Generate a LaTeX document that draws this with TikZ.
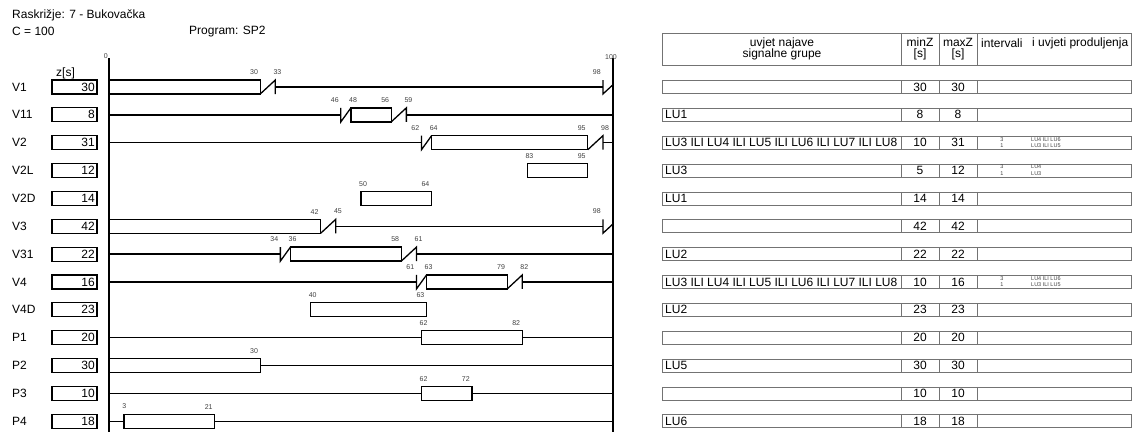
\documentclass[tikz,border=0pt]{standalone}
\usepackage{fontspec}
\setmainfont{Liberation Sans}

% time [s] -> x, row -> y (1 px = 1 pt)
\newcommand\tx[1]{109+5.04*#1}
\newcommand\ry[1]{59.15+27.85*#1}

\begin{document}
\begin{tikzpicture}[
  x=1pt, y=-1pt,
  every node/.style={inner sep=0pt, font=\fontsize{12}{11.7}\selectfont},
  ticklab/.style={font=\fontsize{7}{8}\selectfont, text=black!75},
  small/.style={font=\fontsize{5.5}{6}\selectfont, text=black!75},
  sgbar/.style={line width=1.3pt},
  axis/.style={line width=1.3pt},
  zbox/.style={draw, line width=1.1pt},
  cell/.style={draw=black!55, line width=0.7pt}
]
\useasboundingbox (0,0) rectangle (1134,432);

% green, red, red-amber, amber, time label
\newcommand\zel[3]{\draw[sgbar] (\tx{#2},\ry{#1}-7) rectangle (\tx{#3},\ry{#1}+7);}
\newcommand\crv[3]{\draw[sgbar] (\tx{#2},\ry{#1}) -- (\tx{#3},\ry{#1});}
\newcommand\czu[3]{\draw[sgbar] (\tx{#2},\ry{#1}-7) -- (\tx{#2},\ry{#1}+7) -- (\tx{#3},\ry{#1}-7);}
\newcommand\zut[3]{\draw[sgbar] (\tx{#2},\ry{#1}+7) -- (\tx{#3},\ry{#1}-7) -- (\tx{#3},\ry{#1}+7);}
\newcommand\tlab[3]{\node[ticklab, anchor=#3] (t#1-#2) at (\tx{#2}-2,\ry{#1}-12) {#2};}

\node[anchor=west] (title) at (12,15) {Raskrižje: 7 - Bukovačka};
\node[anchor=west] (cycle) at (12,31.5) {C = 100};
\node[anchor=west] (prog) at (189,31.5) {Program: SP2};
\node[anchor=west] (zs) at (56,73) {z[s]};

\draw[axis] (\tx{0},58) -- (\tx{0},432);
\draw[axis] (\tx{100},58) -- (\tx{100},432);
\node[ticklab, anchor=south east] (t0) at (\tx{0}-1,59) {0};
\node[ticklab, anchor=south] (t100) at (\tx{100}-2,60) {100};

% table header
\draw[cell] (662,33) rectangle (1131,65);
\foreach \c in {901,939,977} \draw[cell] (\c,33) -- (\c,65);
\node[align=center] (uvjet) at (782,49) {uvjet najave\\signalne grupe};
\node[align=center] (minz) at (920,49) {minZ\\{[s]}};
\node[align=center] (maxz) at (958,49) {maxZ\\{[s]}};
\node[anchor=west] (interv) at (981,43) {intervali};
\node[anchor=west] (produlj) at (1032,43) {i uvjeti produljenja};

\foreach \n/\sg/\z/\uv/\mn/\mx in {
  1/V1/30//30/30,
  2/V11/8/LU1/8/8,
  3/V2/31/LU3 ILI LU4 ILI LU5 ILI LU6 ILI LU7 ILI LU8/10/31,
  4/V2L/12/LU3/5/12,
  5/V2D/14/LU1/14/14,
  6/V3/42//42/42,
  7/V31/22/LU2/22/22,
  8/V4/16/LU3 ILI LU4 ILI LU5 ILI LU6 ILI LU7 ILI LU8/10/16,
  9/V4D/23/LU2/23/23,
  10/P1/20//20/20,
  11/P2/30/LU5/30/30,
  12/P3/10//10/10,
  13/P4/18/LU6/18/18}
{
  \node[anchor=west] (sg\n) at (12,\ry{\n}) {\sg};
  \draw[zbox] (52,\ry{\n}-7) rectangle (97,\ry{\n}+7);
  \node[anchor=east] (z\n) at (95,\ry{\n}) {\z};
  \draw[cell] (662,\ry{\n}-6.5) rectangle (1131,\ry{\n}+6.5);
  \foreach \c in {901,939,977} \draw[cell] (\c,\ry{\n}-6.5) -- (\c,\ry{\n}+6.5);
  \node[anchor=west] (uv\n) at (665,\ry{\n}) {\uv};
  \node (mn\n) at (920,\ry{\n}) {\mn};
  \node (mx\n) at (958,\ry{\n}) {\mx};
}

% intervali i uvjeti produljenja
\foreach \n/\ua/\ub in {3/LU4 ILI LU6/LU3 ILI LU5, 4/LU4/LU3, 8/LU4 ILI LU6/LU3 ILI LU5} {
  \node[small] (ia\n) at (1002,\ry{\n}-3.5) {3};
  \node[small] (ib\n) at (1002,\ry{\n}+3) {1};
  \node[small, anchor=west] (ua\n) at (1031,\ry{\n}-3.5) {\ua};
  \node[small, anchor=west] (ub\n) at (1031,\ry{\n}+3) {\ub};
}

% V1
\zel{1}{0}{30} \zut{1}{30}{33} \crv{1}{33}{98}
\draw[sgbar] (\tx{98},\ry{1}-7) -- (\tx{98},\ry{1}+7) -- (\tx{100},\ry{1}-2.3);
\tlab{1}{30}{south east} \tlab{1}{33}{south west} \tlab{1}{98}{south east}
% V11
\crv{2}{0}{46} \czu{2}{46}{48} \zel{2}{48}{56} \zut{2}{56}{59} \crv{2}{59}{100}
\tlab{2}{46}{south east} \tlab{2}{48}{south west} \tlab{2}{56}{south east} \tlab{2}{59}{south west}
% V2
\crv{3}{0}{62} \czu{3}{62}{64} \zel{3}{64}{95} \zut{3}{95}{98} \crv{3}{98}{100}
\tlab{3}{62}{south east} \tlab{3}{64}{south west} \tlab{3}{95}{south east} \tlab{3}{98}{south west}
% V2L
\zel{4}{83}{95}
\tlab{4}{83}{south west} \tlab{4}{95}{south east}
% V2D
\zel{5}{50}{64}
\tlab{5}{50}{south west} \tlab{5}{64}{south east}
% V3
\zel{6}{0}{42} \zut{6}{42}{45} \crv{6}{45}{98}
\draw[sgbar] (\tx{98},\ry{6}-7) -- (\tx{98},\ry{6}+7) -- (\tx{100},\ry{6}-2.3);
\tlab{6}{42}{south east} \tlab{6}{45}{south west} \tlab{6}{98}{south east}
% V31
\crv{7}{0}{34} \czu{7}{34}{36} \zel{7}{36}{58} \zut{7}{58}{61} \crv{7}{61}{100}
\tlab{7}{34}{south east} \tlab{7}{36}{south west} \tlab{7}{58}{south east} \tlab{7}{61}{south west}
% V4
\crv{8}{0}{61} \czu{8}{61}{63} \zel{8}{63}{79} \zut{8}{79}{82} \crv{8}{82}{100}
\tlab{8}{61}{south east} \tlab{8}{63}{south west} \tlab{8}{79}{south east} \tlab{8}{82}{south west}
% V4D
\zel{9}{40}{63}
\tlab{9}{40}{south west} \tlab{9}{63}{south east}
% P1
\crv{10}{0}{62} \zel{10}{62}{82} \crv{10}{82}{100}
\tlab{10}{62}{south west} \tlab{10}{82}{south east}
% P2
\zel{11}{0}{30} \crv{11}{30}{100}
\tlab{11}{30}{south east}
% P3
\crv{12}{0}{62} \zel{12}{62}{72} \crv{12}{72}{100}
\tlab{12}{62}{south west} \tlab{12}{72}{south east}
% P4
\crv{13}{0}{3} \zel{13}{3}{21} \crv{13}{21}{100}
\tlab{13}{3}{south west} \tlab{13}{21}{south east}
\end{tikzpicture}
\end{document}
